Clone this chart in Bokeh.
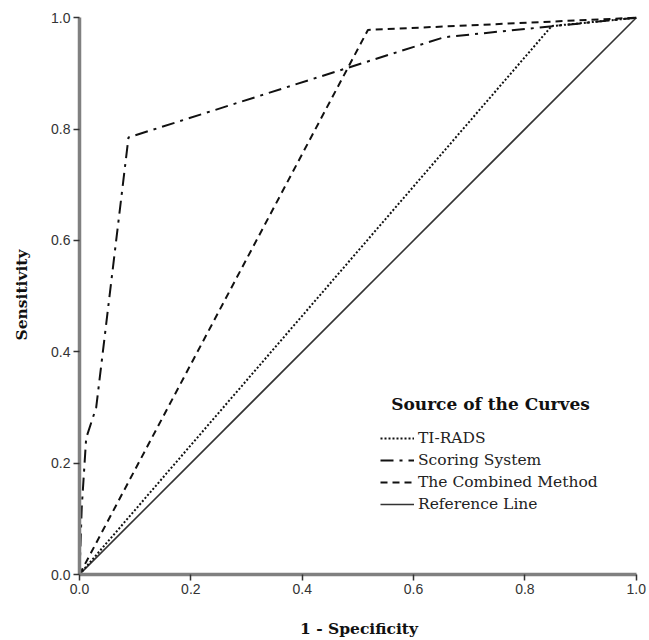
from bokeh.plotting import figure
from bokeh.models import Range1d, Legend, LegendItem, FixedTicker, Label
from bokeh.embed import file_html
from bokeh.resources import INLINE

# Data (1 - specificity, sensitivity)
tirads_x = [0.0, 0.848, 1.0]
tirads_y = [0.0, 0.985, 1.0]

scoring_x = [0.0, 0.004, 0.012, 0.03, 0.088, 0.655, 1.0]
scoring_y = [0.0, 0.12, 0.245, 0.30, 0.785, 0.965, 1.0]

combined_x = [0.0, 0.518, 1.0]
combined_y = [0.0, 0.978, 1.0]

ref_x = [0.0, 1.0]
ref_y = [0.0, 1.0]

ticks = [0.0, 0.2, 0.4, 0.6, 0.8, 1.0]
tick_labels = {0.0: "0.0", 0.2: "0.2", 0.4: "0.4", 0.6: "0.6", 0.8: "0.8", 1.0: "1.0"}

SERIF = "DejaVu Serif"

p = figure(frame_width=559, frame_height=559, output_backend="svg", toolbar_location=None,
           x_range=Range1d(0, 1.004), y_range=Range1d(0, 1.004),
           min_border_left=79, min_border_top=15, min_border_right=11, min_border_bottom=62)
p.background_fill_color = "white"
p.border_fill_color = "white"
p.outline_line_color = None
p.xgrid.visible = False
p.ygrid.visible = False

for ax in (p.xaxis[0], p.yaxis[0]):
    ax.ticker = FixedTicker(ticks=ticks)
    ax.major_label_overrides = tick_labels
    ax.bounds = (0, 1)
    ax.axis_line_color = "#808080"
    ax.axis_line_width = 3.5
    ax.major_tick_line_color = "#333333"
    ax.major_tick_line_width = 1.5
    ax.major_tick_out = 6
    ax.major_tick_in = 0
    ax.minor_tick_line_color = None
    ax.major_label_text_font = "Liberation Sans"
    ax.major_label_text_font_size = "14px"
    ax.major_label_text_color = "#333333"
    ax.major_label_standoff = 3
    ax.axis_label_text_font = SERIF
    ax.axis_label_text_font_style = "bold"
    ax.axis_label_text_font_size = "15.5px"
    ax.axis_label_text_color = "#111111"

p.xaxis.axis_label = "1 - Specificity"
p.yaxis.axis_label = "Sensitivity"
p.xaxis.axis_label_standoff = 22
p.yaxis.axis_label_standoff = 17

r_ref = p.line(ref_x, ref_y, line_color="#333333", line_width=1.6)
r_tirads = p.line(tirads_x, tirads_y, line_color="#111111", line_width=2, line_dash="2 2")
r_comb = p.line(combined_x, combined_y, line_color="#111111", line_width=2, line_dash="7 5")
r_score = p.line(scoring_x, scoring_y, line_color="#111111", line_width=2, line_dash="13 6 3 6")

title = Label(x=411, y=171, x_units="screen", y_units="screen", text="Source of the Curves",
              text_font=SERIF, text_font_style="bold", text_font_size="17px",
              text_color="#111111", text_align="center", text_baseline="middle")
p.add_layout(title)

legend = Legend(items=[
    LegendItem(label="TI-RADS", renderers=[r_tirads]),
    LegendItem(label="Scoring System", renderers=[r_score]),
    LegendItem(label="The Combined Method", renderers=[r_comb]),
    LegendItem(label="Reference Line", renderers=[r_ref]),
], location=(301, 60))
legend.label_text_font = SERIF
legend.label_text_font_size = "15.5px"
legend.label_text_color = "#222222"
legend.glyph_width = 34
legend.glyph_height = 20
legend.label_height = 20
legend.label_standoff = 4
legend.spacing = 2
legend.padding = 0
legend.margin = 0
legend.border_line_color = None
legend.background_fill_alpha = 0
p.add_layout(legend, "center")

open("out.html", "w").write(file_html(p, INLINE))
